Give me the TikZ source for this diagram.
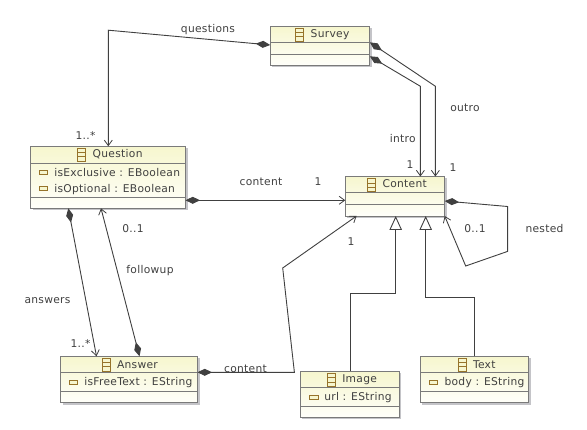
\documentclass[tikz,border=0pt]{standalone}
\usepackage{fontspec}
\setmainfont[LetterSpace=2.7]{DejaVu Sans}
\usetikzlibrary{arrows.meta,calc}
\definecolor{ink}{HTML}{404040}
\definecolor{edgegray}{HTML}{7A7A7A}
\definecolor{shadowgray}{HTML}{C4C4C8}
\definecolor{brownicon}{HTML}{96732A}
\definecolor{topyellow}{HTML}{F6F6CE}
\definecolor{botyellow}{HTML}{FFFFFA}
\tikzset{
  x=1pt,y=-1pt,
  classbox/.style={draw=edgegray,line width=0.9pt,top color=topyellow,bottom color=botyellow,minimum width=#1,inner sep=0pt,outer sep=0pt,anchor=north west},
  lbl/.style={text=ink,font=\fontsize{10.7pt}{12pt}\selectfont,inner sep=0pt,outer sep=0pt,yshift=-0.8pt},
  tlbl/.style={lbl,anchor=base west},
  rel/.style={draw=ink,line width=0.9pt,line join=miter},
  comp/.style={rel,{Diamond[length=14.5pt,width=7pt,fill=ink]}-{Straight Barb[length=5.5pt,width=8pt,line width=0.8pt]}},
  gen/.style={rel,-{Triangle[open,length=14pt,width=12.5pt,fill=white]}},
  divider/.style={draw=edgegray,line width=0.9pt},
  iconbox/.style={draw=brownicon,line width=0.8pt,fill=topyellow},
}
% name, x, y, w, h, divider1, divider2, icon x
\newcommand{\umlclass}[8]{%
  \fill[shadowgray] (#2+2,#3+2) rectangle (#2+#4+2,#3+#5+2);
  \node[classbox=#4pt,minimum height=#5pt] (#1) at (#2,#3) {};
  \draw[divider] (#2,#6) -- (#2+#4,#6);
  \draw[divider] (#2,#7) -- (#2+#4,#7);
  \draw[iconbox] (#8,#3+2.3) rectangle (#8+8.4,#3+14.7);
  \draw[brownicon,line width=0.6pt] (#8,#3+6.4) -- (#8+8.4,#3+6.4) (#8,#3+10.5) -- (#8+8.4,#3+10.5);
}
\newcommand{\attricon}[2]{\draw[iconbox] (#1,#2) rectangle (#1+8.4,#2+4.3);}
\begin{document}
\begin{tikzpicture}
\useasboundingbox (0,0) rectangle (587,430);
\fill[white] (0,0) rectangle (587,430);

\umlclass{survey}{270.2}{26.3}{99.6}{39}{42.3}{54.4}{295.3}
\umlclass{question}{30.5}{146.3}{155}{62}{163}{197.3}{77.3}
\umlclass{content}{345.3}{176.5}{99.4}{39.5}{192.4}{204.4}{367.3}
\umlclass{answer}{60.5}{356.3}{137}{46.4}{372.4}{391.3}{102.3}
\umlclass{image}{300.4}{371.4}{98.8}{46}{387.6}{406.4}{327.4}
\umlclass{textcls}{420.4}{356.3}{108.4}{46.4}{372.4}{391.3}{458.4}

\node[tlbl] (t1) at (310.7,37) {Survey};
\node[tlbl] (t2) at (92.7,157) {Question};
\node[tlbl] (t3) at (382.5,186.7) {Content};
\node[tlbl] (t4) at (117,367.3) {Answer};
\node[tlbl] (t5) at (342.3,381.7) {Image};
\node[tlbl] (t6) at (473,367.3) {Text};

\attricon{39.3}{170.3}
\attricon{39.3}{186.3}
\attricon{69.3}{380.4}
\attricon{309.5}{395.4}
\attricon{429.3}{380.4}
\node[tlbl] (a1) at (54.3,175.3) {isExclusive : EBoolean};
\node[tlbl] (a2) at (54.3,191.3) {isOptional : EBoolean};
\node[tlbl] (a3) at (84.3,385) {isFreeText : EString};
\node[tlbl] (a4) at (324.3,400) {url : EString};
\node[tlbl] (a5) at (444.5,385) {body : EString};

% bends
\coordinate (b1) at (108.3,30.2);
\coordinate (b2) at (420.4,86.3);
\coordinate (b3) at (435.4,86.3);
\coordinate (b4) at (507.6,206.5);
\coordinate (b5) at (507.6,251.4);
\coordinate (b6) at (465.7,266);
\coordinate (b7) at (294.4,372.4);
\coordinate (b8) at (282.7,268);
\coordinate (b9) at (350.4,293.4);
\coordinate (b10) at (395.7,293.4);
\coordinate (b11) at (474.4,297.4);
\coordinate (b12) at (425.7,297.4);

\draw[comp] ($(survey.north west)+(0,18.7)$) -- (b1) -- (b1 |- question.north);
\draw[comp] ($(survey.north east)+(0,30)$) -- (b2) -- (b2 |- content.north);
\draw[comp] ($(survey.north east)+(0,16)$) -- (b3) -- (b3 |- content.north);
\draw[comp] ($(question.north east)+(0,54)$) -- ($(content.north west)+(0,23.8)$);
\draw[comp] ($(content.north east)+(0,24.5)$) -- (b4) -- (b5) -- (b6) -- (content.south east);
\draw[comp] ($(question.south west)+(37.8,0)$) -- ($(answer.north west)+(36,0)$);
\draw[comp] ($(answer.north west)+(79,0)$) -- ($(question.south west)+(70.5,0)$);
\draw[comp] ($(answer.north east)+(0,16)$) -- (b7) -- (b8) -- ($(content.south west)+(11.3,0)$);
\draw[gen] (b9 |- image.north) -- (b9) -- (b10) -- (b10 |- content.south);
\draw[gen] (b11 |- textcls.north) -- (b11) -- (b12) -- (b12 |- content.south);

\node[lbl] (l1) at (208,29) {questions};
\node[lbl] (l2) at (85.5,134.5) {1..*};
\node[lbl] (l3) at (261,181) {content};
\node[lbl] (l4) at (318,181) {1};
\node[lbl] (l5) at (402.7,137.5) {intro};
\node[lbl] (l6) at (465,107.5) {outro};
\node[lbl] (l7) at (410,164) {1};
\node[lbl] (l8) at (453,167) {1};
\node[lbl] (l9) at (475,228) {0..1};
\node[lbl] (l10) at (544.5,228) {nested};
\node[lbl] (l11) at (351,241) {1};
\node[lbl] (l12) at (133,228) {0..1};
\node[lbl] (l13) at (150,270) {followup};
\node[lbl] (l14) at (47.5,300) {answers};
\node[lbl] (l15) at (80.5,343) {1..*};
\node[lbl] (l16) at (245.5,368) {content};
\end{tikzpicture}
\end{document}
